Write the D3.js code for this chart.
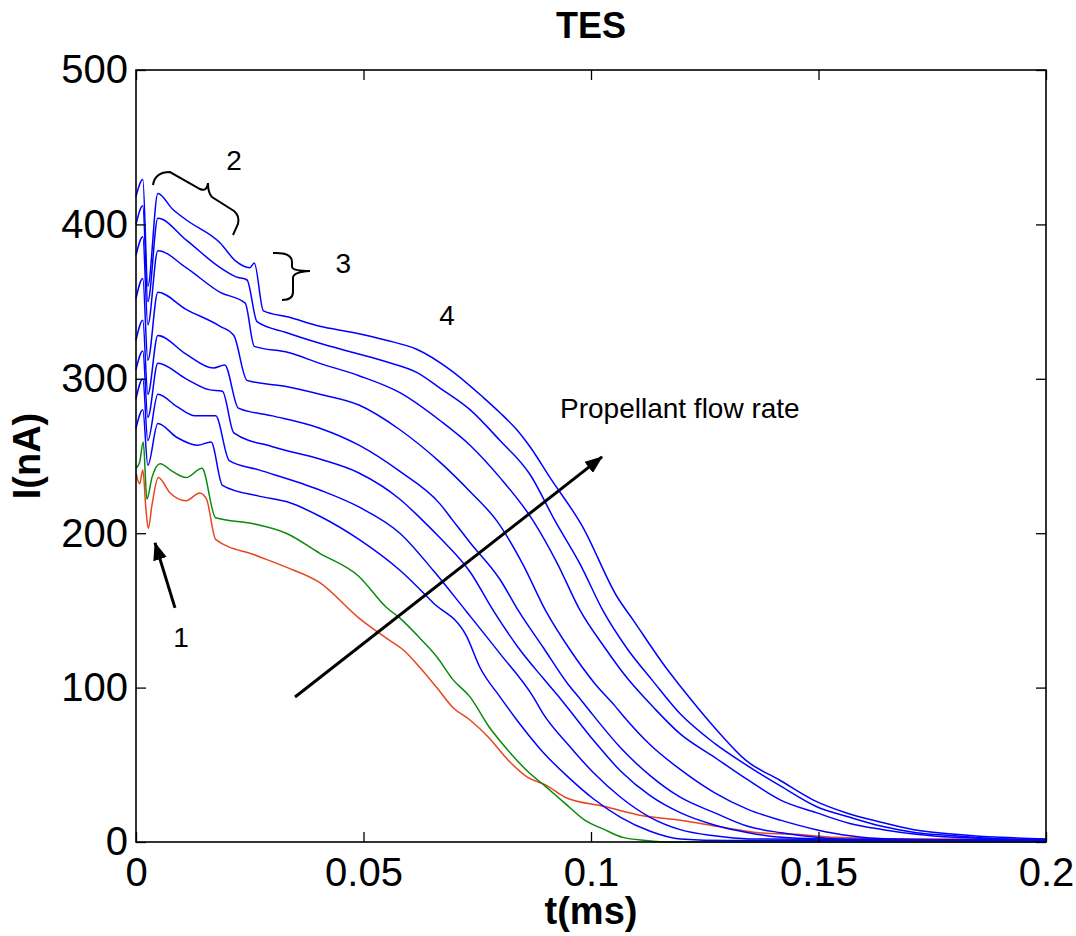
<!doctype html>
<html>
<head>
<meta charset="UTF-8">
<title>TES</title>
<script src="https://d3js.org/d3.v7.min.js"></script>
<style>
    body { margin: 0; background: #fff; }
    text { font-family: "Liberation Sans", Arial, sans-serif; }
</style>
</head>
<body>
<svg id="chart" width="1076" height="936"></svg>
<script>
    // traces [t(ms), I(nA)] (top blue curve = blue1)
    var blue1 = [[0,418],[0.0015,429],[0.0026,360],[0.0048,420],[0.008,410],[0.011,403],[0.0185,388],[0.022,376],[0.025,372],[0.026,375],[0.028,344],[0.0335,340],[0.0404,334],[0.0477,330],[0.055,325],[0.0618,319],[0.069,306],[0.0763,288],[0.08,278],[0.0837,267],[0.0866,256],[0.091,236],[0.0982,204],[0.1057,159],[0.1092,144],[0.1167,112],[0.1196,101],[0.124,85],[0.1284,70],[0.134,53],[0.1415,40],[0.149,27],[0.156,19],[0.1635,13],[0.171,8],[0.18,5],[0.19,3],[0.2,2]];
    var blue2 = [[0,400],[0.0015,412],[0.0026,350],[0.0048,404],[0.011,390],[0.0185,372],[0.022,366],[0.0244,364],[0.0266,337],[0.033,330],[0.0404,323],[0.0477,317],[0.055,311],[0.0618,304],[0.0668,294],[0.0734,280],[0.08,260],[0.0866,238],[0.0921,208],[0.0976,180],[0.1026,150],[0.108,125],[0.1134,105],[0.1196,83],[0.1271,64],[0.1346,49],[0.1418,36],[0.1495,23],[0.1569,16],[0.1642,10],[0.1715,6],[0.18,4],[0.19,2],[0.2,1]];
    var blue3 = [[0,380],[0.0015,392],[0.0026,335],[0.0048,383],[0.011,372],[0.0185,356],[0.024,349],[0.026,321],[0.0335,317],[0.0404,310],[0.049,302],[0.058,291],[0.0668,273],[0.0734,257],[0.08,236],[0.0873,208],[0.0925,181],[0.0976,150],[0.103,126],[0.108,106],[0.1138,87],[0.1196,70],[0.1271,55],[0.1346,40],[0.1418,27],[0.1495,19],[0.1569,12],[0.1642,8],[0.1715,5],[0.18,3],[0.19,2],[0.2,1]];
    var blue4 = [[0,352],[0.0015,365],[0.0026,312],[0.0048,356],[0.011,345],[0.0185,334],[0.0215,328],[0.0244,299],[0.033,295],[0.0404,290],[0.049,283],[0.058,267],[0.0668,246],[0.0734,227],[0.0793,208],[0.085,180],[0.09,150],[0.0955,124],[0.101,102],[0.1053,88],[0.107,82],[0.113,63],[0.1196,47],[0.1271,32],[0.1346,21],[0.1418,14],[0.1495,8],[0.1569,4],[0.165,2],[0.2,1]];
    var blue5 = [[0,325],[0.0015,338],[0.0026,290],[0.0048,328],[0.011,316],[0.017,307],[0.0195,309],[0.0225,281],[0.03,276],[0.0404,268],[0.049,257],[0.058,240],[0.0668,219],[0.0697,208],[0.0734,194],[0.08,170],[0.084,150],[0.0895,126],[0.095,102],[0.0978,92],[0.1005,82],[0.1065,61],[0.113,43],[0.1196,29],[0.1271,19],[0.1346,10],[0.1418,6],[0.1495,3],[0.16,1],[0.2,1]];
    var blue6 = [[0,306],[0.0015,318],[0.0026,275],[0.0048,310],[0.011,300],[0.016,293],[0.019,292],[0.0215,265],[0.03,256],[0.0404,248],[0.049,239],[0.058,222],[0.0631,208],[0.0668,197],[0.0734,175],[0.0785,150],[0.084,126],[0.0895,106],[0.0935,92],[0.1005,66],[0.1065,46],[0.113,30],[0.1196,19],[0.1271,11],[0.1346,6],[0.1418,3],[0.15,2],[0.2,1]];
    var blue7 = [[0,287],[0.0015,300],[0.0026,260],[0.0048,290],[0.009,282],[0.013,276],[0.0175,276],[0.0205,247],[0.027,241],[0.0404,228],[0.049,217],[0.058,200],[0.0653,176],[0.0727,149],[0.08,122],[0.0873,94],[0.0895,83],[0.095,63],[0.1005,45],[0.1065,29],[0.113,16],[0.1196,8],[0.1271,4],[0.1346,2],[0.2,1]];
    var blue8 = [[0,268],[0.0015,280],[0.0026,244],[0.0048,271],[0.009,262],[0.0135,257],[0.0165,259],[0.019,231],[0.027,224],[0.0335,220],[0.0404,211],[0.049,196],[0.058,176],[0.0653,155],[0.0727,133],[0.0756,113],[0.08,94],[0.0837,79],[0.0895,58],[0.095,42],[0.1005,28],[0.1065,16],[0.113,7],[0.1196,2],[0.13,1],[0.2,1]];
    var green = [[0,242],[0.0008,246],[0.0016,259],[0.0024,222],[0.0035,236],[0.0053,245],[0.008,240],[0.011,236],[0.0145,242],[0.0175,210],[0.026,206],[0.033,200],[0.0404,187],[0.049,172],[0.055,152],[0.058,145],[0.0624,132],[0.0661,120],[0.0697,105],[0.0734,94],[0.0775,75],[0.081,62],[0.086,46],[0.09,36],[0.0943,25],[0.0987,14],[0.103,8],[0.107,3],[0.112,1],[0.118,0],[0.2,0]];
    var red = [[0,239],[0.0008,232],[0.0015,241],[0.0022,215],[0.0027,203],[0.0035,218],[0.0049,236],[0.0075,226],[0.011,221],[0.014,226],[0.0155,222],[0.0175,196],[0.026,186],[0.033,178],[0.0404,168],[0.049,145],[0.055,132],[0.0589,124],[0.0624,113],[0.0661,100],[0.0697,87],[0.0734,79],[0.0774,68],[0.0818,53],[0.086,42],[0.09,37],[0.0943,29],[0.103,23],[0.1114,17],[0.12,14],[0.128,10],[0.137,6],[0.1451,5],[0.1536,3],[0.17,2],[0.2,2]];

    var xTicks = [0, 0.05, 0.1, 0.15, 0.2];
    var yTicks = [0, 100, 200, 300, 400, 500];

    var w = 1076, h = 936;
    var m = { left: 136, right: 30, top: 70, bottom: 94 };
    var font = '"Liberation Sans", Arial, sans-serif';

    var x = d3.scaleLinear().domain([0, 0.2]).range([m.left, w - m.right]);
    var y = d3.scaleLinear().domain([0, 500]).range([h - m.bottom, m.top]);

    var svg = d3.select('#chart');

    // arrow head
    svg.append('defs').append('marker')
        .attr('id', 'head')
        .attr('viewBox', '0 0 18 14')
        .attr('refX', 17).attr('refY', 7)
        .attr('markerWidth', 18).attr('markerHeight', 14)
        .attr('markerUnits', 'userSpaceOnUse')
        .attr('orient', 'auto')
        .append('path').attr('d', 'M0,0 L18,7 L0,14 z').attr('fill', '#000');

    // traces, red and green first so blue sits on top
    var series = [
        { data: red, color: '#e8461e' },
        { data: green, color: '#0a8a0a' },
        { data: blue8, color: '#0000ff' },
        { data: blue7, color: '#0000ff' },
        { data: blue6, color: '#0000ff' },
        { data: blue5, color: '#0000ff' },
        { data: blue4, color: '#0000ff' },
        { data: blue3, color: '#0000ff' },
        { data: blue2, color: '#0000ff' },
        { data: blue1, color: '#0000ff' }
    ];
    var line = d3.line()
        .x(function (d) { return x(d[0]); })
        .y(function (d) { return y(d[1]); })
        .curve(d3.curveMonotoneX);

    svg.append('g').selectAll('path').data(series).enter().append('path')
        .attr('d', function (d) { return line(d.data); })
        .attr('fill', 'none')
        .attr('stroke', function (d) { return d.color; })
        .attr('stroke-width', 1.5)
        .attr('stroke-linejoin', 'round');

    // axes, ticks inside on all four sides
    var gx = svg.append('g').attr('transform', 'translate(0,' + y(0) + ')')
        .call(d3.axisBottom(x).tickValues(xTicks).tickSize(-10).tickPadding(16).tickFormat(function (d) { return d; }));
    var gy = svg.append('g').attr('transform', 'translate(' + x(0) + ',0)')
        .call(d3.axisLeft(y).tickValues(yTicks).tickSize(-10).tickPadding(8));
    var gt = svg.append('g').attr('transform', 'translate(0,' + y(500) + ')')
        .call(d3.axisTop(x).tickValues(xTicks).tickSize(-10).tickFormat(''));
    var gr = svg.append('g').attr('transform', 'translate(' + x(0.2) + ',0)')
        .call(d3.axisRight(y).tickValues(yTicks).tickSize(-10).tickFormat(''));

    [gx, gy, gt, gr].forEach(function (g) {
        g.select('.domain').remove();
        g.attr('font-size', 40).attr('font-family', font);
        g.selectAll('line').attr('stroke', '#000').attr('stroke-width', 1.3);
        g.selectAll('text').attr('fill', '#000');
    });

    svg.append('rect')
        .attr('x', x(0)).attr('y', y(500))
        .attr('width', x(0.2) - x(0)).attr('height', y(0) - y(500))
        .attr('fill', 'none').attr('stroke', '#000').attr('stroke-width', 1.6);

    // titles
    svg.append('text').attr('x', (x(0) + x(0.2)) / 2).attr('y', 38)
        .attr('text-anchor', 'middle').attr('font-size', 36).attr('font-weight', 'bold').text('TES');
    svg.append('text').attr('x', (x(0) + x(0.2)) / 2).attr('y', 924)
        .attr('text-anchor', 'middle').attr('font-size', 38).attr('font-weight', 'bold').text('t(ms)');
    svg.append('text').attr('transform', 'translate(40,' + (y(0) + y(500)) / 2 + ') rotate(-90)')
        .attr('text-anchor', 'middle').attr('font-size', 38).attr('font-weight', 'bold').text('I(nA)');

    // annotations
    var arrows = [
        { from: [0.03495, 93.9], to: [0.10242, 249.4] },
        { from: [0.00857, 151.6], to: [0.00418, 193.7] }
    ];
    svg.append('g').selectAll('line').data(arrows).enter().append('line')
        .attr('x1', function (d) { return x(d.from[0]); }).attr('y1', function (d) { return y(d.from[1]); })
        .attr('x2', function (d) { return x(d.to[0]); }).attr('y2', function (d) { return y(d.to[1]); })
        .attr('stroke', '#000').attr('stroke-width', 3).attr('marker-end', 'url(#head)');

    var notes = [
        { t: 0.09319, v: 274.6, s: 'Propellant flow rate', anchor: 'start' },
        { t: 0.06835, v: 334.8, s: '4', anchor: 'middle' },
        { t: 0.02154, v: 435.2, s: '2', anchor: 'middle' },
        { t: 0.04556, v: 368.5, s: '3', anchor: 'middle' },
        { t: 0.00989, v: 126.3, s: '1', anchor: 'middle' }
    ];
    svg.append('g').selectAll('text').data(notes).enter().append('text')
        .attr('x', function (d) { return x(d.t); }).attr('y', function (d) { return y(d.v); })
        .attr('text-anchor', function (d) { return d.anchor; })
        .attr('font-size', 28).text(function (d) { return d.s; });

    // braces, drawn around their tip point
    var braces = [
        { t: 0.01582, v: 426.8, d: 'M-55,2 Q-53,-11 -38,-11 L-8,6 Q-1,9 0,0 Q0,10 4,14 L26,28 Q32,33 30,41 L25,52' },
        { t: 0.03824, v: 369.8, d: 'M-37,-18 Q-18,-19 -18,-9 L-18,-4 Q-17,0 0,0 Q-17,1 -17,7 L-17,21 Q-17,29 -28,29' }
    ];
    svg.append('g').selectAll('path').data(braces).enter().append('path')
        .attr('transform', function (d) { return 'translate(' + x(d.t) + ',' + y(d.v) + ')'; })
        .attr('d', function (d) { return d.d; })
        .attr('fill', 'none').attr('stroke', '#000').attr('stroke-width', 2);
</script>
</body>
</html>
